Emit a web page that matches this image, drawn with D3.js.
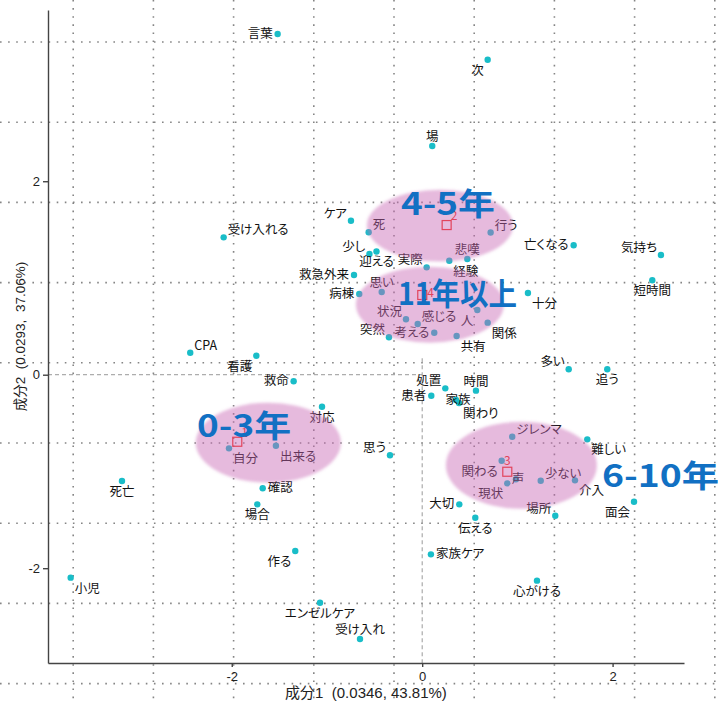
<!DOCTYPE html>
<html>
<head>
<meta charset="utf-8">
<script src="https://cdn.jsdelivr.net/npm/d3@7"></script>
<style>
body { margin: 0; background: #fff; }
svg { display: block; }
text { font-family: "Noto Sans CJK JP", "Noto Sans", sans-serif; }
.lbl { font-size: 12.5px; fill: #111; font-feature-settings: "palt"; }
.axis text { font-family: "Liberation Sans", Arial, sans-serif; font-size: 13px; fill: #222; }
.axis path, .axis line { stroke: #444; stroke-width: 1.4; }
.title { font-family: "Liberation Sans", "Noto Sans CJK JP", sans-serif; fill: #222; }
.big { font-size: 31px; font-weight: bold; fill: #1170c3; }
</style>
</head>
<body>
<div class="chart-container"></div>
<script>
// words (column scores)
var words = ["言葉","次","場","ケア","受け入れる","死","行う","少し","迎える","救急外来",
  "病棟","実際","悲嘆","経験","思い","状況","感じる","人","関係","考える",
  "共有","突然","十分","亡くなる","気持ち","短時間","多い","追う","処置","時間",
  "患者","家族","関わり","思う","ジレンマ","難しい","関わる","声","現状","少ない",
  "介入","大切","場所","面会","伝える","家族ケア","心がける","受け入れ","エンゼルケア","作る",
  "小児","死亡","確認","場合","CPA","看護","救命","対応","自分","出来る"];
var wordX = [-1.518,0.688,0.106,-0.748,-2.085,-0.562,0.719,-0.554,-0.480,-0.716,
  -0.661,0.047,0.474,0.285,-0.425,-0.170,-0.047,0.579,0.688,0.127,
  0.362,-0.349,1.111,1.591,2.508,2.417,1.539,1.944,0.243,0.565,
  0.096,0.355,0.387,-0.338,0.946,1.734,0.835,0.985,0.894,1.245,
  1.605,0.390,1.398,2.225,0.558,0.092,1.206,-0.653,-1.073,-1.333,
  -3.692,-3.153,-1.675,-1.732,-2.436,-1.742,-1.350,-1.052,-2.029,-1.536];
var wordY = [3.522,3.256,2.364,1.592,1.420,1.472,1.470,1.248,1.274,1.031,
  0.834,1.110,1.196,1.178,0.855,0.573,0.524,0.669,0.538,0.434,
  0.400,0.387,0.845,1.338,1.237,0.976,0.056,0.056,-0.141,-0.165,
  -0.217,-0.262,-0.293,-0.833,-0.641,-0.668,-0.889,-1.081,-1.123,-1.096,
  -1.092,-1.340,-1.458,-1.313,-1.478,-1.857,-2.129,-2.732,-2.357,-1.822,
  -2.098,-1.099,-1.174,-1.340,0.227,0.196,-0.068,-0.331,-0.761,-0.734];

// groups (row scores)
var groupIds = ["1","2","3","4"];
var groupNames = ["0-3年","4-5年","6-10年","11年以上"];
var groupX = [-1.942,0.257,0.894,0.001];
var groupY = [-0.693,1.547,-1.003,0.824];

// hand-drawn highlight ellipses, in data units
var ellCX = [-1.616,0.186,1.042,0.081];
var ellCY = [-0.703,1.541,-0.936,0.724];
var ellRX = [0.762,0.767,0.793,0.777];
var ellRY = [0.414,0.372,0.450,0.393];
var nameX = [-2.365,-0.223,1.888,-0.255];
var nameY = [-0.645,1.651,-1.161,0.720];

// where each word label sits relative to its point
var labelPos = {"言葉":"l","次":"lb","場":"a","ケア":"la","受け入れる":"ra","死":"ra","行う":"ra",
  "少し":"la","迎える":"b","救急外来":"l","病棟":"l","実際":"la","悲嘆":"a","経験":"rb","思い":"a",
  "状況":"la","感じる":"ra","人":"lb","関係":"rb","考える":"l","共有":"rb","突然":"la","十分":"rb",
  "亡くなる":"l","気持ち":"la","短時間":"b","多い":"la","追う":"b","処置":"la","時間":"a","患者":"l",
  "家族":"c","関わり":"rb","思う":"la","ジレンマ":"ra","難しい":"rb","関わる":"lb","声":"c","現状":"lb",
  "少ない":"ra","介入":"rb","大切":"l","場所":"la","面会":"lb","伝える":"b","家族ケア":"r","心がける":"b",
  "受け入れ":"a","エンゼルケア":"b","作る":"lb","小児":"rb","死亡":"b","確認":"r","場合":"b","CPA":"ra",
  "看護":"lb","救命":"l","対応":"b","自分":"rb","出来る":"rb"};
var groupPos = ["ra","ra","a","r"];

var W = 718, H = 701;
var x = d3.scaleLinear().domain([-3.93, 2.75]).range([48, 684]);
var y = d3.scaleLinear().domain([-2.98, 3.77]).range([663, 10]);

// printed widths of the big group names (px)
var bigWidth = [94, 94, 117, 119];

function place(code, px, py) {
    var o = {x: px, y: py + 4, a: "middle"};
    if (code == "l")  { o.x = px - 5; o.a = "end"; }
    if (code == "r")  { o.x = px + 5; o.a = "start"; }
    if (code == "a")  { o.y = py - 5; }
    if (code == "b")  { o.y = py + 15; }
    if (code == "la") { o.x = px - 4; o.y = py - 3; o.a = "end"; }
    if (code == "ra") { o.x = px + 4; o.y = py - 3; o.a = "start"; }
    if (code == "lb") { o.x = px - 4; o.y = py + 15; o.a = "end"; }
    if (code == "rb") { o.x = px + 4; o.y = py + 15; o.a = "start"; }
    if (code == "c")  { o.x = px + 2; }
    return o;
}

var svg = d3.select(".chart-container").append("svg")
    .attr("width", W)
    .attr("height", H);

svg.append("defs").append("filter")
    .attr("id", "soft")
  .append("feGaussianBlur")
    .attr("stdDeviation", 1.6);

// dotted overlay grid (spans the whole picture)
var gridStep = 80.2;
var grid = svg.append("g").attr("class", "grid")
    .attr("stroke", "#858585").attr("stroke-width", 1.6).attr("stroke-dasharray", "1.6,6.5");
grid.selectAll("line.v").data(d3.range(73.2, W + 5, gridStep)).enter()
  .append("line").attr("class", "v")
    .attr("x1", function(d){ return d; }).attr("x2", function(d){ return d; })
    .attr("y1", 0).attr("y2", H);
grid.selectAll("line.h").data(d3.range(42, H, gridStep)).enter()
  .append("line").attr("class", "h")
    .attr("y1", function(d){ return d; }).attr("y2", function(d){ return d; })
    .attr("x1", 0).attr("x2", W);

// zero lines
svg.append("line")
    .attr("x1", x(x.domain()[0])).attr("x2", x(0))
    .attr("y1", y(0)).attr("y2", y(0))
    .attr("stroke", "#999").attr("stroke-dasharray", "4,3");
svg.append("line")
    .attr("x1", x(0)).attr("x2", x(0))
    .attr("y1", y(0.17)).attr("y2", y(y.domain()[0]))
    .attr("stroke", "#999").attr("stroke-dasharray", "4,3");

// axes
svg.append("g")
    .attr("class", "axis")
    .attr("transform", "translate(0," + y.range()[0] + ")")
    .call(d3.axisBottom(x).tickValues([-2, 0, 2]).tickSize(4).tickSizeOuter(0).tickPadding(5)
        .tickFormat(function(d){ return String(d); }));
svg.append("g")
    .attr("class", "axis")
    .attr("transform", "translate(" + x.range()[0] + ",0)")
    .call(d3.axisLeft(y).tickValues([-2, 0, 2]).tickSize(5).tickSizeOuter(0).tickPadding(3)
        .tickFormat(function(d){ return String(d); }));

svg.append("text")
    .attr("class", "title")
    .style("font-size", "15px")
    .attr("text-anchor", "middle")
    .attr("x", (x.range()[0] + x.range()[1]) / 2)
    .attr("y", 698)
    .attr("xml:space", "preserve")
    .text("成分1  (0.0346, 43.81%)");
svg.append("text")
    .attr("class", "title")
    .style("font-size", "13.5px")
    .attr("text-anchor", "middle")
    .attr("xml:space", "preserve")
    .attr("transform", "translate(25," + (y.range()[0] + y.range()[1]) / 2 + ") rotate(-90)")
    .text("成分2  (0.0293,  37.06%)");

// word points + labels
var pts = svg.append("g").attr("class", "words");
pts.selectAll("circle").data(words).enter()
  .append("circle")
    .attr("cx", function(d, i){ return x(wordX[i]); })
    .attr("cy", function(d, i){ return y(wordY[i]); })
    .attr("r", 3.2)
    .attr("fill", "#19bdc8");
pts.selectAll("text").data(words).enter()
  .append("text")
    .attr("class", "lbl")
    .each(function(d, i) {
        var o = place(labelPos[d], x(wordX[i]), y(wordY[i]));
        d3.select(this).attr("x", o.x).attr("y", o.y).attr("text-anchor", o.a);
    })
    .text(function(d){ return d; });

// pink highlight ellipses (drawn over the words)
svg.append("g").selectAll("ellipse").data(groupNames).enter()
  .append("ellipse")
    .attr("cx", function(d, i){ return x(ellCX[i]); })
    .attr("cy", function(d, i){ return y(ellCY[i]); })
    .attr("rx", function(d, i){ return x(ellRX[i]) - x(0); })
    .attr("ry", function(d, i){ return y(0) - y(ellRY[i]); })
    .attr("fill", "rgb(200,100,180)")
    .attr("fill-opacity", 0.45)
    .attr("filter", "url(#soft)");

// group points
var gp = svg.append("g").attr("class", "groups");
gp.selectAll("rect").data(groupIds).enter()
  .append("rect")
    .attr("x", function(d, i){ return x(groupX[i]) - 4.5; })
    .attr("y", function(d, i){ return y(groupY[i]) - 4.5; })
    .attr("width", 9).attr("height", 9)
    .attr("fill", "none")
    .attr("stroke", "#e2445c")
    .attr("stroke-width", 1.2);
gp.selectAll("text").data(groupIds).enter()
  .append("text")
    .style("font-size", "12px")
    .attr("fill", "#e2445c")
    .each(function(d, i) {
        var o = place(groupPos[i], x(groupX[i]), y(groupY[i]));
        d3.select(this).attr("x", o.x).attr("y", o.y - 2).attr("text-anchor", o.a);
    })
    .text(function(d){ return d; });

// big group names
svg.append("g").selectAll("text").data(groupNames).enter()
  .append("text")
    .attr("class", "big")
    .attr("x", function(d, i){ return x(nameX[i]); })
    .attr("y", function(d, i){ return y(nameY[i]); })
    .attr("textLength", function(d, i){ return bigWidth[i]; })
    .attr("lengthAdjust", "spacingAndGlyphs")
    .text(function(d){ return d; });
</script>
</body>
</html>
